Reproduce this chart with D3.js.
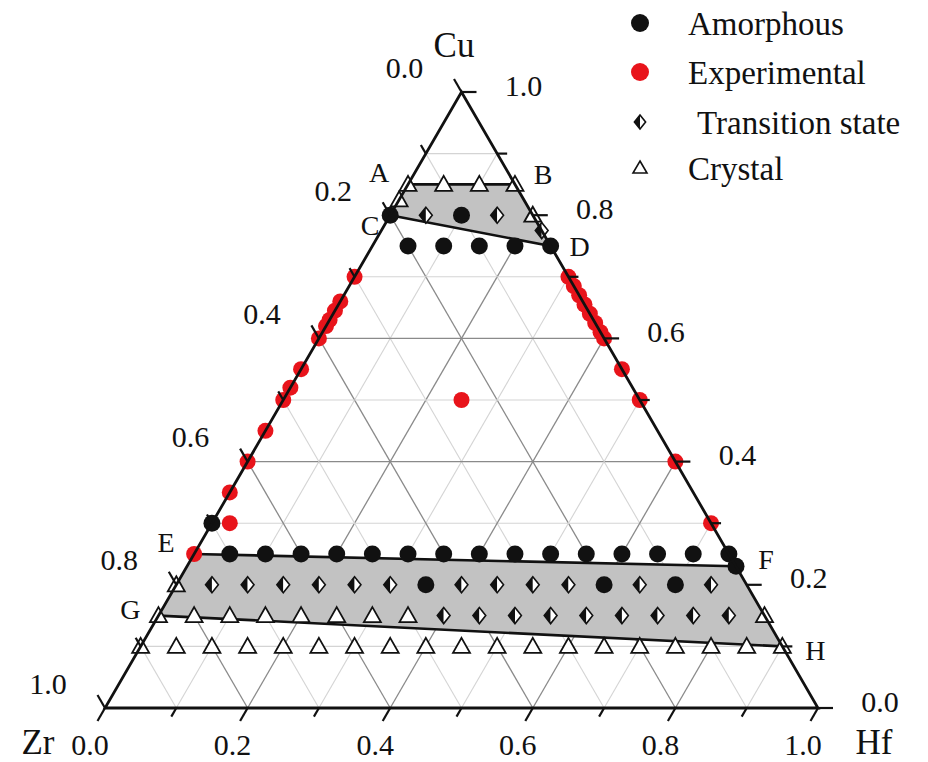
<!DOCTYPE html>
<html>
<head>
<meta charset="utf-8">
<script src="https://cdn.jsdelivr.net/npm/d3@7"></script>
<style>
  body { margin: 0; background: #fff; }
  svg { display: block; }
  text { font-family: "Liberation Serif", "Times New Roman", serif; fill: #111; }
</style>
</head>
<body>
<svg id="chart" width="928" height="762"></svg>
<script>
// Compositions in at.% written as [Cu, Zr, Hf]
const amorphous = [
  [80, 20, 0], [80, 10, 10],
  [75, 20, 5], [75, 15, 10], [75, 10, 15], [75, 5, 20], [75, 0, 25],
  [30, 70, 0],
  [25, 70, 5], [25, 65, 10], [25, 60, 15], [25, 55, 20], [25, 50, 25],
  [25, 45, 30], [25, 40, 35], [25, 35, 40], [25, 30, 45], [25, 25, 50],
  [25, 20, 55], [25, 15, 60], [25, 10, 65], [25, 5, 70], [25, 0, 75],
  [23, 0, 77],
  [20, 45, 35], [20, 20, 60], [20, 10, 70]
];
const experimental = [
  [70, 30, 0], [66, 34, 0], [64.5, 35.5, 0], [63, 37, 0], [62, 38, 0], [60, 40, 0],
  [55, 45, 0], [52, 48, 0], [50, 50, 0], [45, 55, 0], [40, 60, 0], [35, 65, 0],
  [30, 67.5, 2.5], [25, 75, 0],
  [70, 0, 30], [68.5, 0, 31.5], [67, 0, 33], [65.5, 0, 34.5], [64, 0, 36],
  [62.5, 0, 37.5], [61, 0, 39], [60, 0, 40], [55, 0, 45], [50, 0, 50],
  [40, 0, 60], [30, 0, 70],
  [50, 25, 25]
];
const transition = [
  [80, 15, 5], [80, 5, 15], [77.5, 0, 22.5],
  [20, 75, 5], [20, 70, 10], [20, 65, 15], [20, 60, 20], [20, 55, 25], [20, 50, 30],
  [20, 40, 40], [20, 35, 45], [20, 30, 50], [20, 25, 55], [20, 15, 65], [20, 5, 75],
  [15, 45, 40], [15, 40, 45], [15, 35, 50], [15, 30, 55], [15, 25, 60],
  [15, 20, 65], [15, 15, 70], [15, 10, 75], [15, 5, 80]
];
const crystal = [
  [85, 15, 0], [85, 10, 5], [85, 5, 10], [85, 0, 15], [82.5, 17.5, 0], [80, 0, 20],
  [20, 80, 0],
  [15, 85, 0], [15, 80, 5], [15, 75, 10], [15, 70, 15], [15, 65, 20], [15, 60, 25],
  [15, 55, 30], [15, 50, 35], [15, 0, 85],
  [10, 90, 0], [10, 85, 5], [10, 80, 10], [10, 75, 15], [10, 70, 20], [10, 65, 25],
  [10, 60, 30], [10, 55, 35], [10, 50, 40], [10, 45, 45], [10, 40, 50], [10, 35, 55],
  [10, 30, 60], [10, 25, 65], [10, 20, 70], [10, 15, 75], [10, 10, 80], [10, 5, 85],
  [10, 0, 90]
];

// Boundary compositions of the two shaded bands
const upperBand = { A: [85, 15, 0], B: [85, 0, 15], C: [80, 20, 0], D: [75, 0, 25] };
const lowerBand = { E: [25, 75, 0], F: [23, 0, 77], G: [15, 85, 0], H: [10, 0, 90] };

const axisTicks = [0, 0.1, 0.2, 0.3, 0.4, 0.5, 0.6, 0.7, 0.8, 0.9, 1.0];
const tickLabels = ["0.0", "0.2", "0.4", "0.6", "0.8", "1.0"];
const gridLevels = [10, 20, 30, 40, 50, 60, 70, 80, 90];
const legendItems = ["Amorphous", "Experimental", "Transition state", "Crystal"];

const svg = d3.select("#chart");

// x runs with (Hf + Cu/2), y with Cu
const sx = d3.scaleLinear().domain([0, 100]).range([105, 818]);
const sy = d3.scaleLinear().domain([0, 100]).range([708, 92]);
const proj = ([cu, zr, hf]) => [sx(hf + cu / 2), sy(cu)];
const pathOf = pts => "M" + pts.map(p => proj(p).join(",")).join("L") + "Z";
const lineOf = (a, b) => [proj(a), proj(b)];

// grid: three families of iso-lines
const gGrid = svg.append("g");
gridLevels.forEach(v => {
  const major = v % 20 === 0;
  const col = major ? "#8a8a8a" : "#d4d4d4";
  const segs = [
    [[v, 100 - v, 0], [v, 0, 100 - v]],       // constant Cu
    [[0, v, 100 - v], [100 - v, v, 0]],       // constant Zr
    [[0, 100 - v, v], [100 - v, 0, v]]        // constant Hf
  ];
  segs.forEach(([a, b]) => {
    const [p, q] = lineOf(a, b);
    gGrid.append("line").attr("x1", p[0]).attr("y1", p[1]).attr("x2", q[0]).attr("y2", q[1])
      .attr("stroke", col).attr("stroke-width", major ? 1.3 : 1.1);
  });
});

// shaded bands
svg.append("path").attr("d", pathOf([upperBand.A, upperBand.B, upperBand.D, upperBand.C]))
  .attr("fill", "#c2c2c2");
svg.append("path").attr("d", pathOf([lowerBand.E, lowerBand.F, lowerBand.H, lowerBand.G]))
  .attr("fill", "#c2c2c2");

// band boundary lines
[[upperBand.A, upperBand.B], [upperBand.C, upperBand.D], [lowerBand.E, lowerBand.F], [lowerBand.G, lowerBand.H]]
  .forEach(([a, b]) => {
    const [p, q] = lineOf(a, b);
    svg.append("line").attr("x1", p[0]).attr("y1", p[1]).attr("x2", q[0]).attr("y2", q[1])
      .attr("stroke", "#111").attr("stroke-width", 2.6);
  });

// marker shapes
const triPath = "M0,-8.5L8.5,6.5L-8.5,6.5Z";
function drawDiamond(g, s) {
  g.append("path").attr("d", `M0,${-s}L${-s * 0.8},0L0,${s}Z`).attr("fill", "#111");
  g.append("path").attr("d", `M0,${-s}L${s * 0.8},0L0,${s}Z`).attr("fill", "#fff");
  g.append("path").attr("d", `M0,${-s}L${s * 0.8},0L0,${s}L${-s * 0.8},0Z`)
    .attr("fill", "none").attr("stroke", "#111").attr("stroke-width", 1.6);
}

const gMarks = svg.append("g");
gMarks.selectAll(".cry").data(crystal).join("path").attr("class", "cry")
  .attr("transform", d => `translate(${proj(d)})`).attr("d", triPath)
  .attr("fill", "#fff").attr("stroke", "#111").attr("stroke-width", 1.8);
gMarks.selectAll(".tra").data(transition).join("g").attr("class", "tra")
  .attr("transform", d => `translate(${proj(d)})`)
  .each(function () { drawDiamond(d3.select(this), 8); });
gMarks.selectAll(".amo").data(amorphous).join("circle").attr("class", "amo")
  .attr("cx", d => proj(d)[0]).attr("cy", d => proj(d)[1]).attr("r", 8.5).attr("fill", "#111");
gMarks.selectAll(".exp").data(experimental).join("circle").attr("class", "exp")
  .attr("cx", d => proj(d)[0]).attr("cy", d => proj(d)[1]).attr("r", 8).attr("fill", "#e8141b");

// triangle frame
svg.append("path").attr("d", pathOf([[0, 100, 0], [0, 0, 100], [100, 0, 0]]))
  .attr("fill", "none").attr("stroke", "#111").attr("stroke-width", 2.8).attr("stroke-linejoin", "miter");

// ticks and labels
const gAx = svg.append("g").attr("stroke", "#111").attr("stroke-width", 2.2);
const c60 = 0.5, s60 = Math.sqrt(3) / 2;
axisTicks.forEach((t, i) => {
  const v = t * 100;
  const L = i % 2 === 0 ? 15 : 10;
  // bottom axis (Hf)
  let p = proj([0, 100 - v, v]);
  gAx.append("line").attr("x1", p[0]).attr("y1", p[1]).attr("x2", p[0] - L * c60).attr("y2", p[1] + L * s60);
  // left axis (Zr)
  p = proj([100 - v, v, 0]);
  gAx.append("line").attr("x1", p[0]).attr("y1", p[1]).attr("x2", p[0] - L * c60).attr("y2", p[1] - L * s60);
  // right axis (Cu)
  p = proj([v, 0, 100 - v]);
  gAx.append("line").attr("x1", p[0]).attr("y1", p[1]).attr("x2", p[0] + L).attr("y2", p[1]);
});

const gLab = svg.append("g").attr("font-size", 30).attr("text-anchor", "middle");
tickLabels.forEach(s => {
  const v = +s * 100;
  let p = proj([0, 100 - v, v]);
  gLab.append("text").attr("x", p[0] - 15).attr("y", p[1] + 36).attr("dy", "0.35em").text(s);
  p = proj([100 - v, v, 0]);
  gLab.append("text").attr("x", p[0] - 57).attr("y", p[1] - 25).attr("dy", "0.35em").text(s);
  p = proj([v, 0, 100 - v]);
  gLab.append("text").attr("x", p[0] + 62).attr("y", p[1] - 7).attr("dy", "0.35em").text(s);
});

// corner titles
const titles = [["Cu", 454, 45], ["Zr", 38, 742], ["Hf", 874, 742]];
titles.forEach(([t, x, y]) => svg.append("text").attr("x", x).attr("y", y).attr("dy", "0.35em")
  .attr("text-anchor", "middle").attr("font-size", 35).text(t));

// band corner letters
const letterPos = { A: [-29, -12], B: [28, -10], C: [-20, 10], D: [29, 0], E: [-28, -12], F: [30, -7], G: [-28, -6], H: [33, 4] };
Object.entries({ ...upperBand, ...lowerBand }).forEach(([k, comp]) => {
  const p = proj(comp);
  svg.append("text").attr("x", p[0] + letterPos[k][0]).attr("y", p[1] + letterPos[k][1])
    .attr("dy", "0.35em").attr("text-anchor", "middle").attr("font-size", 28).text(k);
});

// legend
const legY = [23, 72, 122, 168];
const gLeg = svg.append("g");
legendItems.forEach((name, i) => {
  const g = gLeg.append("g").attr("transform", `translate(640,${legY[i]})`);
  if (i === 0) g.append("circle").attr("r", 9).attr("fill", "#111");
  if (i === 1) g.append("circle").attr("r", 9).attr("fill", "#e8141b");
  if (i === 2) drawDiamond(g, 7);
  if (i === 3) g.append("path").attr("d", "M0,-7L7,5L-7,5Z").attr("fill", "#fff")
    .attr("stroke", "#111").attr("stroke-width", 1.6);
  g.append("text").attr("x", i === 2 ? 57 : 48).attr("y", 0).attr("dy", "0.35em")
    .attr("font-size", 33).text(name);
});
</script>
</body>
</html>
